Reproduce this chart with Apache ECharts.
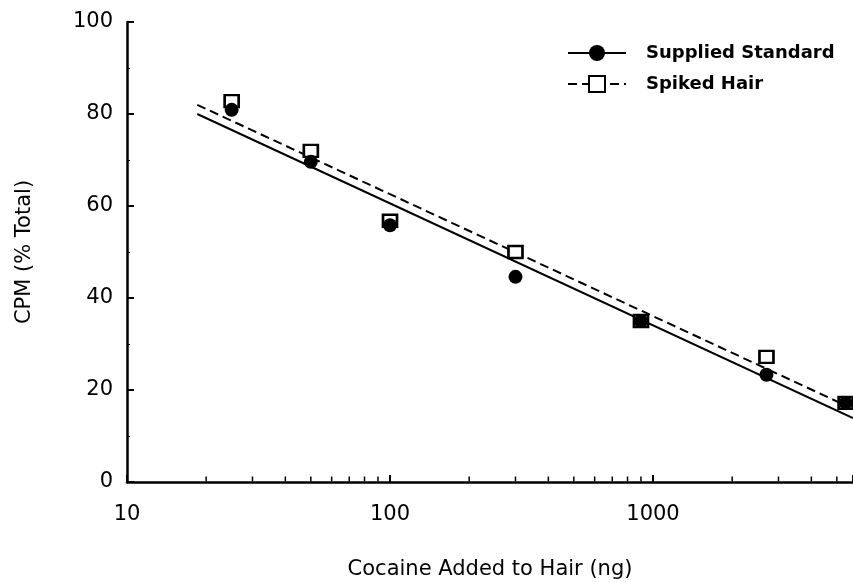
<!DOCTYPE html>
<html>
<head>
<meta charset="utf-8">
<script src="https://cdn.jsdelivr.net/npm/echarts@6/dist/echarts.min.js"></script>
<style>
html,body{margin:0;padding:0;background:#fff;}
#chart{width:853px;height:582px;}
</style>
</head>
<body>
<div id="chart"></div>
<script>
// Cocaine added (ng)
const cocaineNg = [25, 50, 100, 300, 900, 2700, 5400];
// CPM (% Total)
const suppliedStandard = [80.9, 69.6, 55.8, 44.6, 35.0, 23.3, 17.2];
const spikedHair = [82.8, 72.0, 56.8, 50.0, 35.0, 27.2, 17.2];
// fitted regression lines (endpoints)
const fitX = [18.5, 5760];
const fitSupplied = [80.0, 13.9];
const fitSpiked = [82.0, 15.9];
// axis
const xMin = 10, xMax = 5760;
const yTicks = [0, 20, 40, 60, 80, 100];
const xMinorTicks = [20, 30, 40, 50, 60, 70, 80, 90, 200, 300, 400, 500, 600, 700, 800, 900, 2000, 3000, 4000, 5000];
const seriesNames = ['Supplied Standard', 'Spiked Hair'];

const FONT = 'DejaVu Sans';
const pair = (xs, ys) => xs.map((x, i) => [x, ys[i]]);

const chart = echarts.init(document.getElementById('chart'), null, {renderer: 'canvas'});
chart.setOption({
  animation: false,
  backgroundColor: '#fff',
  grid: {left: 127, right: 0, top: 22, bottom: 100, containLabel: false, outerBoundsMode: 'none'},
  legend: {
    data: seriesNames,
    orient: 'vertical',
    left: 567, top: 44, padding: 0,
    itemWidth: 58, itemHeight: 20, itemGap: 13,
    textStyle: {fontFamily: FONT, fontWeight: 'bold', fontSize: 18, color: '#000', padding: [0, 0, 0, 15]}
  },
  xAxis: {
    type: 'log', logBase: 10, min: xMin, max: xMax,
    name: 'Cocaine Added to Hair (ng)', nameLocation: 'middle', nameGap: 77,
    nameTextStyle: {fontFamily: FONT, fontSize: 21, color: '#000'},
    axisLine: {show: true, onZero: false, lineStyle: {color: '#000', width: 2.5}},
    axisTick: {show: true, inside: true, length: 7, lineStyle: {color: '#000', width: 2}},
    axisLabel: {
      fontFamily: FONT, fontSize: 21, color: '#000', margin: 22,
      formatter: v => (Math.abs(Math.log10(v) - Math.round(Math.log10(v))) < 1e-9) ? String(v) : ''
    },
    splitLine: {show: false}
  },
  yAxis: {
    type: 'value', min: 0, max: 100, interval: 20,
    name: 'CPM (% Total)', nameLocation: 'middle', nameGap: 92,
    nameTextStyle: {fontFamily: FONT, fontSize: 21, color: '#000'},
    axisLine: {show: true, lineStyle: {color: '#000', width: 2.5}},
    axisTick: {show: true, inside: true, length: 7, lineStyle: {color: '#000', width: 2}},
    minorTick: {show: true, splitNumber: 2, length: 3, lineStyle: {color: '#000', width: 1}},
    axisLabel: {fontFamily: FONT, fontSize: 21, color: '#000', margin: 14},
    splitLine: {show: false}
  },
  series: [
    {
      name: seriesNames[0], type: 'line', data: pair(fitX, fitSupplied),
      symbol: 'circle', showSymbol: false, silent: true,
      itemStyle: {color: '#000'},
      lineStyle: {color: '#000', width: 2}
    },
    {
      name: seriesNames[1], type: 'line', data: pair(fitX, fitSpiked),
      symbol: 'rect', showSymbol: false, silent: true,
      itemStyle: {color: '#fff', borderColor: '#000', borderWidth: 2.5},
      lineStyle: {color: '#000', width: 2, type: [9, 5]}
    },
    {
      name: seriesNames[1], type: 'scatter', data: pair(cocaineNg, spikedHair),
      symbol: 'rect', symbolSize: [14, 12], clip: false, z: 3,
      itemStyle: {color: '#fff', borderColor: '#000', borderWidth: 2.5, opacity: 1}
    },
    {
      name: seriesNames[0], type: 'scatter', data: pair(cocaineNg, suppliedStandard),
      symbol: 'circle', symbolSize: 14, clip: false, z: 4,
      itemStyle: {color: '#000', opacity: 1}
    },
    {
      type: 'scatter', data: xMinorTicks.map(x => [x, 0]),
      symbol: 'rect', symbolSize: [1.5, 5], symbolOffset: [0, -3], clip: false, silent: true, z: 5,
      itemStyle: {color: '#000', opacity: 1}
    }
  ]
});
</script>
</body>
</html>
